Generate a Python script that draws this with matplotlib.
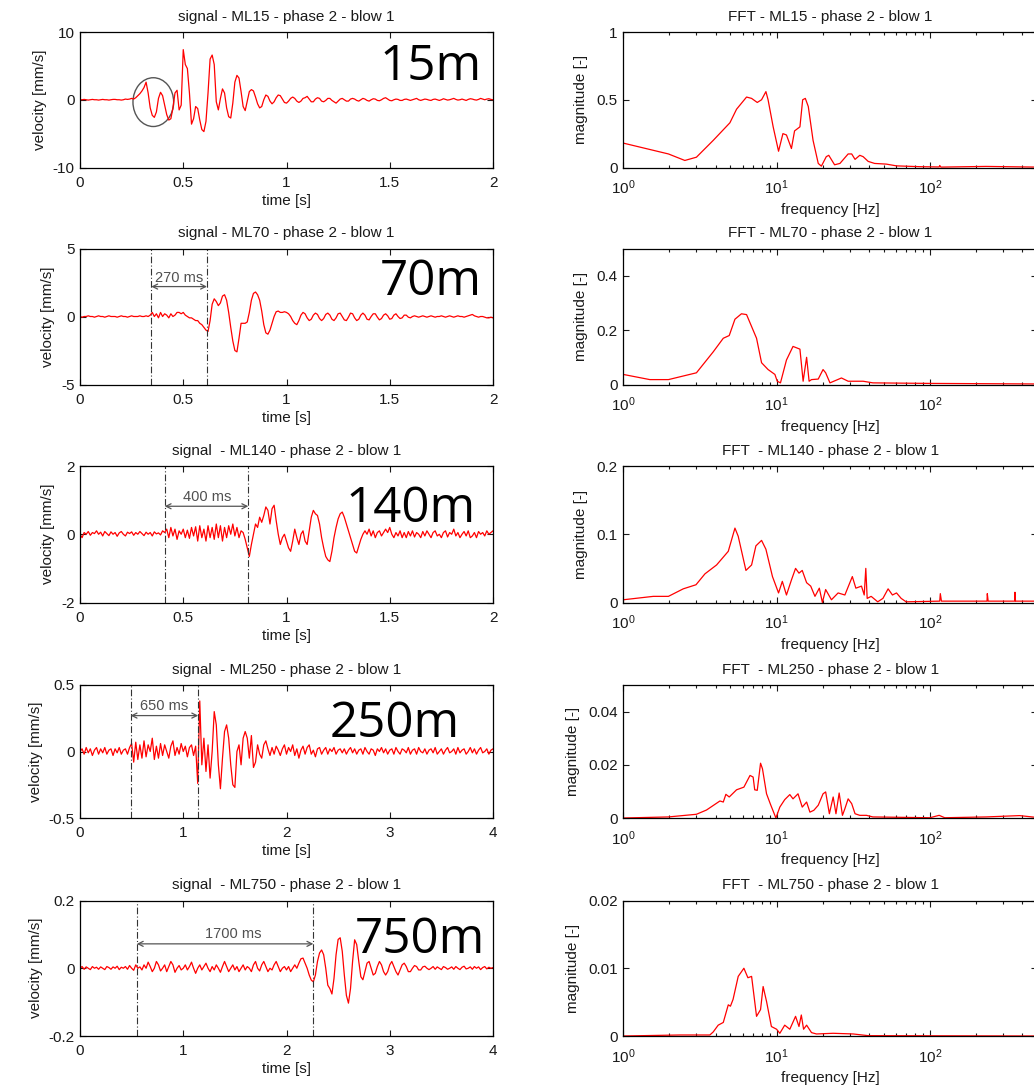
import numpy as np
import matplotlib.pyplot as plt
from matplotlib.patches import Ellipse
from matplotlib.ticker import FuncFormatter

plt.rcParams['font.family'] = ['Liberation Sans', 'DejaVu Sans']
plt.rcParams['mathtext.fontset'] = 'custom'
plt.rcParams['mathtext.rm'] = 'Liberation Sans'

# ---- measured velocity signals (mm/s) ----
dt_short = 0.01   # ML15, ML70, ML140 sampled on a 2 s window
dt_long = 0.02    # ML250, ML750 on a 4 s window

v15 = [0, 0, 0.05, 0, -0.05, 0, 0.05, 0, 0, -0.05,
       0, 0.05, 0, 0, -0.05, 0, 0.05, 0.05, 0, 0,
       -0.05, 0, 0.1, 0.05, 0.1, 0.2, 0.1, 0.3, 0.6, 0.9,
       1.3, 1.8, 2.6, 1.0, -1.2, -2.3, -2.6, -1.8, 0.2, 1.1,
       0.6, -0.8, -2.2, -3.0, -2.8, -1.2, 1.0, 1.4, -1.5, -0.8,
       7.4, 5.2, 4.6, 1.0, -3.6, -2.8, -1.0, -1.3, -3.0, -4.4,
       -4.7, -3.2, 1.0, 6.0, 6.6, 5.2, -0.3, -1.5, 0.2, 1.6,
       1.0, -1.2, -2.5, -2.7, -0.5, 2.6, 3.6, 3.2, 1.2, -1.0,
       -1.6, -0.2, 1.2, 1.5, 1.3, 0.4, -0.6, -1.2, -1.0, 0.0,
       0.7, 0.5, -0.2, -0.6, -0.3, 0.3, 0.7, 0.6, 0.1, -0.4,
       -0.5, -0.2, 0.2, 0.4, 0.2, -0.2, -0.4, -0.2, 0.2, 0.3,
       0.5, 0.1, -0.3, -0.3, 0.1, 0.3, 0.2, -0.2, -0.3, -0.1,
       0.2, 0.2, -0.1, -0.3, -0.5, -0.2, 0.1, 0.2, 0.0, -0.2,
       -0.2, 0.1, 0.2, 0.1, -0.1, -0.2, 0.0, 0.2, 0.1, -0.1,
       -0.2, 0.0, 0.15, 0.1, -0.1, -0.15, 0.0, 0.2, 0.3, 0.1,
       -0.1, -0.15, 0.0, 0.1, 0.05, -0.1, -0.1, 0.05, 0.1, 0.0,
       -0.1, 0.0, 0.1, 0.2, 0.0, -0.1, 0.0, 0.1, 0.05, -0.05,
       -0.1, 0.05, 0.1, 0.0, -0.1, 0.0, 0.15, 0.05, -0.05, 0.0,
       0.1, 0.2, 0.05, -0.05, 0.0, 0.1, 0.0, -0.1, 0.05, 0.15,
       0.1, 0.0, -0.05, 0.05, 0.2, 0.1, 0.0, 0.1, 0.15, 0.05,
       0.0]

v70 = [0, -0.05, 0, 0, 0.05, 0, 0, -0.05, 0, 0.05,
       0, 0, -0.05, 0, 0.05, 0, 0, 0, -0.05, 0,
       0.05, 0, 0, -0.05, 0, 0.05, 0, 0, 0, 0.05,
       0, 0, 0.05, 0, 0.1, 0.3, 0.0, 0.2, -0.1, 0.3,
       0.0, 0.2, 0.1, -0.1, 0.2, 0.0, 0.1, 0.3, 0.3, 0.2,
       0.3, 0.1, 0.0, -0.1, -0.1, -0.2, -0.3, -0.3, -0.5, -0.6,
       -0.8, -1.0, -1.1, -0.3, 0.9, 1.3, 1.1, 0.8, 1.0, 1.5,
       1.6, 1.2, 0.3, -0.8, -1.8, -2.5, -2.6, -1.6, -0.5, -0.5,
       -0.5, -0.4, 0.3, 1.2, 1.7, 1.8, 1.6, 1.2, 0.4, -0.6,
       -1.2, -1.3, -1.0, -0.5, 0.0, 0.35, 0.4, 0.3, 0.3, 0.35,
       0.3, 0.2, 0.0, -0.3, -0.5, -0.6, -0.3, 0.1, 0.3, 0.2,
       -0.1, -0.3, -0.2, 0.1, 0.25, 0.15, -0.15, -0.3, -0.15, 0.15,
       0.25, 0.1, -0.2, -0.3, -0.1, 0.2, 0.25, 0.0, -0.25, -0.3,
       -0.05, 0.25, 0.2, -0.1, -0.3, -0.2, 0.1, 0.25, 0.1, -0.2,
       -0.25, 0.0, 0.2, 0.2, -0.05, -0.25, -0.15, 0.1, 0.2, 0.05,
       -0.2, -0.15, 0.1, 0.2, 0.0, -0.15, -0.1, 0.1, 0.1, -0.05,
       -0.1, 0.0, 0.05, 0.0, -0.05, 0.0, 0.05, 0.0, -0.05, 0.0,
       0.05, 0.0, -0.05, 0.0, 0.0, 0.05, 0.0, -0.05, 0.0, 0.05,
       0.0, -0.05, 0.0, 0.05, 0.0, 0.0, -0.05, 0.0, 0.05, 0.1,
       0.15, 0.05, 0.0, -0.05, 0.0, 0.0, -0.05, -0.1, -0.1, -0.05,
       -0.1]

v140 = [0.0, -0.1, 0.05, 0.0, 0.08, -0.03, 0.05, 0.02, 0.1, 0.0,
        0.06, -0.05, 0.08, 0.02, -0.04, 0.07, 0.0, 0.05, -0.06, 0.04,
        0.08, 0.0, -0.05, 0.06, 0.02, 0.07, -0.03, 0.05, 0.0, 0.08,
        0.02, -0.04, 0.06, 0.0, 0.05, -0.05, 0.07, 0.01, 0.04, -0.02,
        0.1, 0.05, 0.15, -0.1, 0.2, -0.05, 0.15, -0.15, 0.1, 0.0,
        0.15, -0.1, 0.12, -0.12, 0.2, -0.05, 0.22, -0.2, 0.25, -0.1,
        0.15, -0.2, 0.25, -0.1, 0.2, -0.15, 0.3, -0.1, 0.25, -0.2,
        0.2, -0.1, 0.25, 0.0, 0.3, -0.05, 0.2, -0.1, 0.1, 0.05,
        -0.15, -0.4, -0.65, -0.3, 0.0, 0.3, 0.2, 0.5, 0.35, 0.55,
        0.8, 0.7, 0.3, 0.75, 0.85, 0.4, 0.0, -0.3, -0.1, 0.0,
        -0.2, -0.4, -0.5, -0.2, 0.15, -0.1, -0.3, 0.0, 0.1, -0.2,
        -0.3, 0.1, 0.5, 0.7, 0.6, 0.55, 0.3, -0.1, -0.4, -0.65,
        -0.75, -0.8, -0.5, -0.1, 0.2, 0.45, 0.6, 0.65, 0.5, 0.3,
        0.1, -0.1, -0.3, -0.5, -0.55, -0.35, -0.15, 0.0, 0.1, 0.0,
        0.15, -0.05, 0.1, -0.1, 0.05, 0.1, -0.05, 0.05, 0.15, 0.05,
        0.2, 0.0, -0.1, 0.05, -0.05, 0.1, -0.1, 0.05, -0.1, 0.08,
        -0.05, 0.1, -0.08, 0.05, 0.0, -0.1, 0.08, -0.05, 0.1, 0.0,
        -0.1, 0.05, 0.1, -0.05, 0.0, -0.1, 0.05, 0.1, -0.08, 0.05,
        0.0, 0.15, -0.05, 0.05, -0.1, 0.0, 0.08, -0.05, 0.1, -0.1,
        -0.05, 0.05, -0.1, 0.08, 0.0, 0.05, -0.05, 0.1, 0.0, 0.05,
        0.1]

v250 = [0.0, 0.02, -0.02, 0.03, -0.01, 0.02, -0.03, 0.01, 0.03, -0.02,
        0.02, -0.01, 0.03, -0.02, 0.01, 0.02, -0.03, 0.02, -0.01, 0.03,
        -0.02, 0.01, 0.02, -0.02, 0.03, 0.06, -0.08, 0.07, -0.06, 0.05,
        -0.05, 0.08, -0.04, 0.05, 0.0, 0.1, -0.06, 0.04, -0.05, 0.06,
        -0.03, 0.05, 0.0, -0.05, 0.04, 0.08, -0.03, 0.03, -0.02, 0.06,
        0.0, 0.04, -0.04, 0.03, 0.05, -0.03, 0.04, -0.24, 0.38, -0.1,
        0.1, -0.15, 0.05, -0.2, 0.0, 0.3, 0.2, -0.1, -0.28, -0.05,
        0.15, 0.2, 0.1, -0.1, -0.25, -0.27, 0.0, 0.05, -0.1, 0.1,
        0.15, 0.1, -0.05, 0.12, -0.12, -0.08, 0.05, -0.02, -0.05, 0.05,
        0.08, 0.02, -0.03, 0.03, -0.02, 0.04, 0.01, -0.03, 0.02, 0.05,
        -0.02, 0.03, 0.0, 0.05, -0.03, 0.02, -0.05, 0.01, 0.04, -0.02,
        0.03, 0.05, -0.02, 0.01, -0.04, 0.02, 0.03, -0.02, 0.01, 0.03,
        -0.02, 0.02, 0.0, 0.03, -0.02, 0.01, 0.02, -0.01, 0.02, -0.02,
        0.01, 0.03, -0.01, 0.02, -0.02, 0.01, 0.02, -0.02, 0.03, 0.0,
        -0.02, 0.02, 0.01, -0.03, 0.02, 0.0, 0.03, -0.01, 0.02, -0.02,
        0.01, 0.02, -0.02, 0.03, 0.0, -0.02, 0.02, 0.01, -0.01, 0.03,
        -0.02, 0.01, 0.02, -0.02, 0.03, 0.0, -0.01, 0.02, -0.02, 0.01,
        0.02, -0.01, 0.03, -0.02, 0.0, 0.02, -0.02, 0.01, 0.03, -0.01,
        0.0, 0.02, -0.02, 0.03, -0.01, 0.01, 0.02, -0.02, 0.0, 0.03,
        -0.01, 0.02, -0.02, 0.01, 0.03, -0.01, 0.0, 0.02, -0.02, 0.01,
        0.02]

v750 = [0.0, 0.005, -0.003, 0.004, 0.0, -0.004, 0.005, 0.0, 0.003, -0.003,
        0.004, 0.0, -0.004, 0.005, 0.002, -0.003, 0.004, 0.0, 0.006, -0.004,
        0.003, 0.0, 0.005, -0.003, 0.008, 0.0, -0.006, 0.01, 0.0, 0.004,
        -0.005, 0.01, 0.0, 0.018, 0.005, -0.01, 0.0, 0.02, 0.01, -0.008,
        0.0, 0.01, -0.01, 0.005, 0.02, 0.01, -0.012, 0.0, 0.008, -0.005,
        0.0, 0.01, -0.005, 0.005, 0.018, 0.0, -0.015, 0.0, 0.01, -0.005,
        0.005, 0.015, 0.0, -0.01, 0.005, -0.005, 0.01, 0.0, -0.012, 0.005,
        0.02, 0.005, -0.01, 0.0, 0.01, -0.005, 0.005, -0.01, 0.0, 0.01,
        -0.005, 0.005, 0.0, -0.01, 0.01, 0.02, 0.0, -0.008, 0.01, 0.02,
        0.005, -0.01, 0.0, -0.005, 0.01, 0.02, 0.005, -0.01, 0.0, 0.005,
        -0.005, 0.005, -0.01, 0.0, 0.01, 0.0, 0.015, 0.028, 0.03, 0.015,
        0.0, -0.02, -0.035, -0.04, -0.02, 0.02, 0.045, 0.054, 0.04, 0.0,
        -0.05, -0.06, -0.076, -0.03, 0.04, 0.085, 0.09, 0.05, -0.02, -0.08,
        -0.103, -0.06, 0.02, 0.084, 0.07, 0.02, -0.025, -0.034, -0.01, 0.015,
        0.02, 0.0, -0.02, -0.015, 0.005, 0.02, 0.01, -0.01, -0.02, -0.01,
        0.01, 0.02, 0.005, -0.01, -0.02, -0.005, 0.01, 0.015, 0.005, -0.01,
        -0.01, 0.0, 0.008, 0.005, -0.005, -0.005, 0.004, 0.006, 0.0, -0.004,
        0.0, 0.005, -0.003, 0.004, 0.0, -0.004, 0.005, 0.002, -0.003, 0.0,
        0.004, -0.003, 0.005, 0.0, -0.004, 0.003, 0.006, -0.002, 0.0, 0.004,
        -0.003, 0.005, 0.0, 0.004, -0.004, 0.002, 0.005, -0.002, 0.003, 0.0,
        0.002]

# ---- FFT magnitude spectra ----
f15 = [1, 1.97, 2.52, 3.0, 3.86, 4.96, 5.48, 6.37, 6.87, 7.48, 7.98, 8.52, 8.8, 9.5, 10.3,
       11.0, 11.6, 12.5, 13.1, 14.2, 14.8, 15.4, 16.1, 17.3, 18.7, 19.6, 21.1, 21.9, 23.9, 25.9,
       29.3, 30.9, 32.5, 34.9, 36.7, 39.6, 43.6, 52, 60.6, 86, 115, 116, 118, 232, 500]
m15 = [0.18, 0.10, 0.052, 0.076, 0.2, 0.33, 0.43, 0.52, 0.51, 0.48, 0.5, 0.56, 0.5, 0.30, 0.12,
       0.25, 0.24, 0.14, 0.27, 0.30, 0.50, 0.51, 0.45, 0.2, 0.03, 0.01, 0.08, 0.09, 0.02, 0.03,
       0.1, 0.1, 0.06, 0.09, 0.08, 0.045, 0.03, 0.025, 0.012, 0.006, 0.004, 0.015, 0.003, 0.008, 0.003]

f70 = [1, 1.49, 1.97, 3.0, 3.86, 4.49, 4.91, 5.35, 5.9, 6.37, 7.4, 7.98, 8.8, 9.75, 10.1,
       10.6, 11.6, 12.8, 14.2, 14.9, 15.7, 16.3, 16.9, 18.7, 20.1, 20.9, 22.3, 26.5, 29.3, 36.7,
       42.5, 100, 500]
m70 = [0.037, 0.018, 0.018, 0.043, 0.12, 0.17, 0.18, 0.24, 0.26, 0.257, 0.17, 0.08, 0.055, 0.037, 0.012,
       0.006, 0.09, 0.14, 0.13, 0.012, 0.1, 0.012, 0.018, 0.02, 0.055, 0.043, 0.006, 0.024, 0.012, 0.012,
       0.006, 0.004, 0.002]

f140 = [1, 1.57, 1.97, 2.46, 2.98, 3.41, 4.06, 4.84, 5.35, 5.62, 6.31, 6.87, 7.33, 7.98, 8.52,
        9.4, 10.3, 10.9, 11.6, 12.5, 13.3, 14.0, 14.7, 15.7, 16.7, 17.8, 19.0, 19.9, 20.9, 22.8,
        25.2, 27.9, 31.2, 32.9, 35.8, 37.3, 38.2, 39.0, 41.4, 45.7, 49.4, 53.4, 57, 60.6, 65,
        70, 116, 117, 119, 236, 237, 240, 358, 359, 362, 500]
m140 = [0.004, 0.009, 0.009, 0.02, 0.026, 0.042, 0.055, 0.075, 0.109, 0.097, 0.047, 0.055, 0.083, 0.091, 0.078,
        0.038, 0.014, 0.031, 0.011, 0.033, 0.05, 0.043, 0.047, 0.029, 0.024, 0.009, 0.021, 0.0, 0.019, 0.004,
        0.014, 0.011, 0.038, 0.021, 0.024, 0.011, 0.05, 0.006, 0.009, 0.001, 0.006, 0.02, 0.011, 0.014, 0.006,
        0.001, 0.002, 0.013, 0.002, 0.002, 0.013, 0.002, 0.002, 0.015, 0.002, 0.002]

f250 = [1, 1.97, 3.0, 3.49, 4.27, 4.49, 4.67, 4.91, 5.48, 6.12, 6.71, 7.03, 7.2, 7.48, 7.86,
        8.09, 8.6, 9.13, 9.9, 10.5, 11.3, 12.2, 12.8, 13.8, 14.7, 15.7, 16.5, 17.5, 18.7, 20.1,
        20.9, 22.1, 23.4, 24.4, 25.6, 26.9, 27.9, 29.3, 30.9, 32.5, 34.9, 38.6, 42.5, 100, 115,
        125, 232, 385, 500]
m250 = [0.0, 0.0004, 0.0014, 0.003, 0.0064, 0.006, 0.0089, 0.0079, 0.0106, 0.0116, 0.016, 0.0154, 0.0106, 0.0104, 0.0206,
        0.0185, 0.0091, 0.0051, 0.0, 0.0041, 0.0069, 0.0088, 0.0072, 0.0091, 0.0041, 0.006, 0.0022, 0.0029, 0.0048, 0.0091,
        0.0098, 0.0016, 0.0079, 0.0016, 0.0094, 0.001, 0.0035, 0.0072, 0.0054, 0.0016, 0.001, 0.001, 0.0004, 0.0001, 0.001,
        0.0001, 0.0004, 0.0009, 0.0002]

f750 = [1, 2.34, 3.67, 3.86, 4.16, 4.49, 4.84, 5.0, 5.2, 5.62, 6.12, 6.5, 6.87, 7.4, 7.86,
        8.17, 8.6, 9.25, 10.0, 10.5, 11.3, 12.2, 13.3, 14.0, 14.5, 15.0, 15.7, 16.9, 18.2, 23.4,
        31.6, 39.6, 500]
m750 = [0.0, 0.00015, 0.00015, 0.0006, 0.0016, 0.002, 0.0046, 0.0044, 0.0054, 0.0088, 0.01, 0.0086, 0.0088, 0.0029, 0.0039,
        0.0073, 0.0051, 0.0014, 0.001, 0.0004, 0.0016, 0.001, 0.0029, 0.0014, 0.0031, 0.001, 0.0016, 0.0005, 0.0003, 0.0004,
        0.0003, 0.00005, 0.0]

stations = ['ML15', 'ML70', 'ML140', 'ML250', 'ML750']
distance_labels = ['15m', '70m', '140m', '250m', '750m']
signals = [v15, v70, v140, v250, v750]
sample_steps = [dt_short, dt_short, dt_short, dt_long, dt_long]
spectra = [(f15, m15), (f70, m70), (f140, m140), (f250, m250), (f750, m750)]

sig_ylim = [10, 5, 2, 0.5, 0.2]
sig_xmax = [2, 2, 2, 4, 4]
sig_xticks = [[0, 0.5, 1, 1.5, 2]] * 3 + [[0, 1, 2, 3, 4]] * 2
fft_ylim = [1, 0.5, 0.2, 0.05, 0.02]
fft_yticks = [[0, 0.5, 1], [0, 0.2, 0.4], [0, 0.1, 0.2], [0, 0.02, 0.04], [0, 0.01, 0.02]]

# travel-time markers: (first arrival, second arrival, label)
arrivals = [None, (0.345, 0.615, '270 ms'), (0.41, 0.815, '400 ms'),
            (0.49, 1.145, '650 ms'), (0.55, 2.26, '1700 ms')]
arrow_level = [None, 2.2, 0.82, 0.27, 0.072]
label_x = [None, 0.48, 0.615, 0.815, 1.48]
label_level = [None, 2.8, 1.08, 0.34, 0.1]

sig_titles = ['signal - ML15 - phase 2 - blow 1', 'signal - ML70 - phase 2 - blow 1',
              'signal  - ML140 - phase 2 - blow 1', 'signal  - ML250 - phase 2 - blow 1',
              'signal  - ML750 - phase 2 - blow 1']
fft_titles = ['FFT - ML15 - phase 2 - blow 1', 'FFT - ML70 - phase 2 - blow 1',
              'FFT  - ML140 - phase 2 - blow 1', 'FFT  - ML250 - phase 2 - blow 1',
              'FFT  - ML750 - phase 2 - blow 1']

W, H = 1034, 1086
fig = plt.figure(figsize=(W / 100, H / 100), dpi=100)

row_top = [32, 248.5, 466, 685, 900.5]
row_bot = [167.5, 384.5, 602.5, 818, 1036]
label_pos = [(380, 80), (380, 295), (346, 522), (330, 737), (355, 953)]

ink = '#1a1a1a'
fmt = FuncFormatter(lambda v, p: '%g' % v)


def rect(x0, x1, y0, y1):
    return [x0 / W, 1 - y1 / H, (x1 - x0) / W, (y1 - y0) / H]


def style(ax):
    ax.tick_params(which='both', direction='in', top=True, right=True,
                   labelsize=11, colors=ink, width=0.8)
    ax.tick_params(which='major', length=4, pad=4)
    ax.tick_params(which='minor', length=2.5)
    for s in ax.spines.values():
        s.set_linewidth(0.9)
        s.set_color('black')


for i in range(5):
    # time signal
    ax = fig.add_axes(rect(80, 493, row_top[i], row_bot[i]))
    v = np.array(signals[i])
    t = np.arange(len(v)) * sample_steps[i]
    ax.plot(t, v, color='red', lw=0.9)
    ax.set_xlim(0, sig_xmax[i])
    ax.set_ylim(-sig_ylim[i], sig_ylim[i])
    ax.set_xticks(sig_xticks[i])
    ax.set_yticks([-sig_ylim[i], 0, sig_ylim[i]])
    ax.xaxis.set_major_formatter(fmt)
    ax.yaxis.set_major_formatter(fmt)
    ax.set_title(sig_titles[i], fontsize=11, color=ink, pad=8)
    style(ax)
    ax.tick_params(axis='x', which='major', pad=6)
    ax.set_xlabel('time [s]', fontsize=11, color=ink, labelpad=3)
    ax.set_ylabel('velocity [mm/s]', fontsize=11, color=ink, labelpad=4)

    if arrivals[i] is not None:
        t1, t2, txt = arrivals[i]
        for tx in (t1, t2):
            ax.axvline(tx, color='#333333', lw=0.8, dashes=(6, 2, 1, 2))
        ax.annotate('', xy=(t2, arrow_level[i]), xytext=(t1, arrow_level[i]),
                    arrowprops=dict(arrowstyle='<->', color='#555555', lw=0.9,
                                    shrinkA=0, shrinkB=0, mutation_scale=9))
        ax.text(label_x[i], label_level[i], txt, ha='center', va='center',
                fontsize=10.5, color='#505050')
    else:
        ax.add_patch(Ellipse((0.355, -0.35), 0.197, 7.2, fill=False,
                             ec='#555555', lw=1.0))

    lx, ly = label_pos[i]
    fig.text(lx / W, 1 - ly / H, distance_labels[i], fontsize=35.5,
             family='Open Sans', color='black', ha='left', va='baseline')

    # spectrum
    ax2 = fig.add_axes(rect(623.3, 1037, row_top[i], row_bot[i]))
    f, m = spectra[i]
    ax2.semilogx(f, m, color='red', lw=0.9)
    ax2.set_xlim(1, 500)
    ax2.set_ylim(0, fft_ylim[i])
    ax2.set_yticks(fft_yticks[i])
    ax2.yaxis.set_major_formatter(fmt)
    ax2.set_title(fft_titles[i], fontsize=11, color=ink, pad=8)
    style(ax2)
    ax2.tick_params(axis='x', which='major', pad=8)
    ax2.set_xlabel('frequency [Hz]', fontsize=11, color=ink, labelpad=4)
    ax2.set_ylabel('magnitude [-]', fontsize=11, color=ink, labelpad=6)

fig.savefig('out.png', dpi=100)
